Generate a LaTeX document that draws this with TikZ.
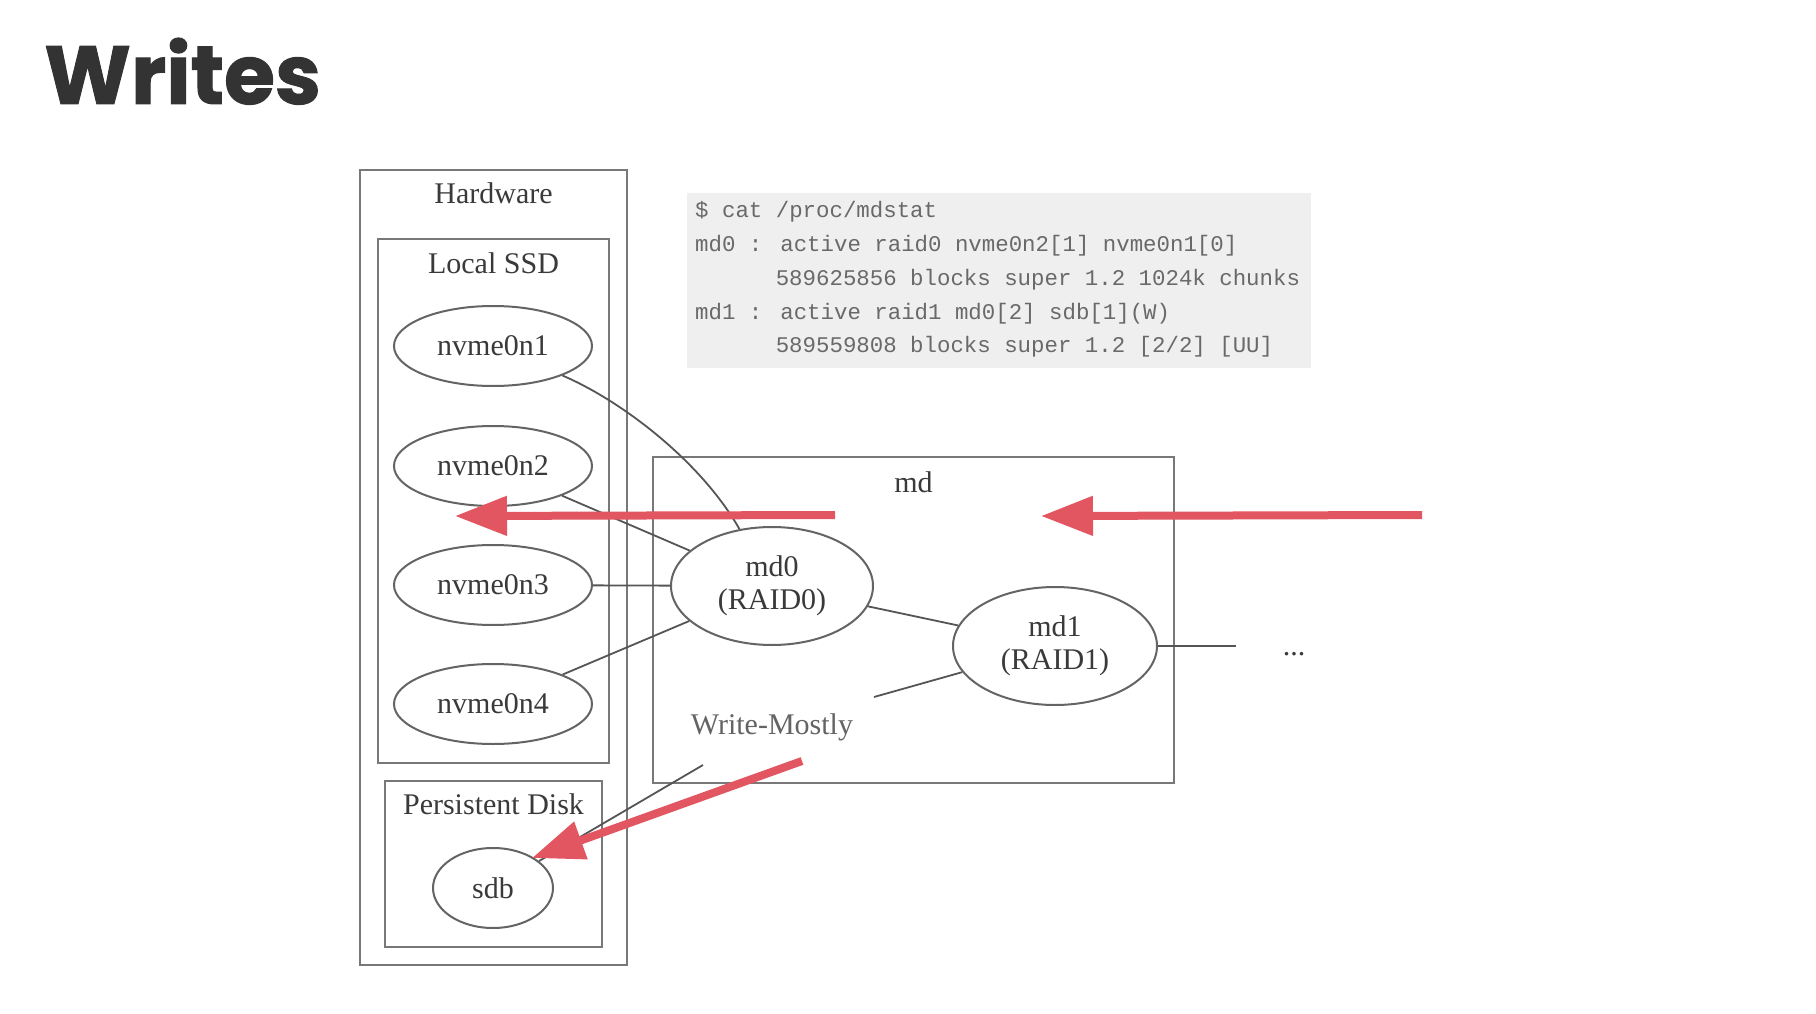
\documentclass[tikz,border=0pt]{standalone}
\usepackage{fontspec}
\setmainfont{Liberation Serif}
\newfontfamily\titlefont{Poppins}[BoldFeatures={FakeBold=1.2}]
\newfontfamily\codefont{Liberation Mono}
\usetikzlibrary{shapes.geometric,arrows.meta}
\definecolor{redarrow}{RGB}{226,86,97}
\definecolor{edgegray}{RGB}{85,85,85}
\definecolor{boxgray}{RGB}{120,120,120}
\definecolor{ellgray}{RGB}{100,100,100}
\definecolor{txtgray}{RGB}{58,58,58}
\definecolor{wmgray}{RGB}{100,100,100}
\definecolor{titlegray}{RGB}{51,51,51}
\definecolor{codegray}{RGB}{105,105,105}
\definecolor{codebg}{RGB}{239,239,239}
\begin{document}
\begin{tikzpicture}[x=1pt,y=-1pt,
  box/.style={draw=boxgray, line width=2.8pt, rectangle, inner sep=0pt},
  boxlabel/.style={inner sep=0pt, text=txtgray, font=\fontsize{30}{33}\selectfont},
  ell/.style={ellipse, draw=ellgray, line width=2pt, inner sep=0pt, align=center, text=txtgray, font=\fontsize{30}{33}\selectfont},
  edge/.style={draw=edgegray, line width=1.8pt},
  writearrow/.style={draw=redarrow, line width=8pt, -{Triangle[length=52pt,width=38pt]}},
  codeline/.style={anchor=base west, inner sep=0pt, text=codegray, font=\codefont\fontsize{22.4}{26}\selectfont}
]
\path[use as bounding box, fill=white] (0,0) rectangle (1816,1014);

% title
\node[anchor=base west, inner sep=0pt, text=titlegray, font=\titlefont\bfseries\fontsize{82.5}{82.5}\selectfont] (title) at (44,104) {Writes};

% code box
\node[fill=codebg, minimum width=624pt, minimum height=175pt, inner sep=0pt] (codebox) at (999,280.5) {};
\node[codeline] (c1) at (695,218) {\$ cat /proc/mdstat};
\node[codeline] (c2) at (695,251) {md0 : active raid0 nvme0n2[1] nvme0n1[0]};
\node[codeline] (c3) at (775.6,285) {589625856 blocks super 1.2 1024k chunks};
\node[codeline] (c4) at (695,319) {md1 : active raid1 md0[2] sdb[1](W)};
\node[codeline] (c5) at (775.6,352) {589559808 blocks super 1.2 [2/2] [UU]};

% clusters
\node[box, minimum width=267pt, minimum height=795pt] (hw) at (493.5,567.5) {};
\node[boxlabel] (hwl) at (493.5,193) {Hardware};
\node[box, minimum width=231pt, minimum height=524pt] (ssd) at (493.5,501) {};
\node[boxlabel] (ssdl) at (493.5,263) {Local SSD};
\node[box, minimum width=217pt, minimum height=166pt] (pd) at (493.5,864) {};
\node[boxlabel] (pdl) at (493.5,804) {Persistent Disk};
\node[box, minimum width=521pt, minimum height=326pt] (md) at (913.5,620) {};
\node[boxlabel] (mdl) at (913.5,482) {md};

% disks
\node[ell, minimum width=198pt, minimum height=80pt] (n1) at (493,346) {nvme0n1};
\node[ell, minimum width=198pt, minimum height=80pt] (n2) at (493,466) {nvme0n2};
\node[ell, minimum width=198pt, minimum height=80pt] (n3) at (493,585) {nvme0n3};
\node[ell, minimum width=198pt, minimum height=80pt] (n4) at (493,704) {nvme0n4};
\node[ell, minimum width=120pt, minimum height=80pt] (sdb) at (493,888) {sdb};
\node[ell, minimum width=202pt, minimum height=118pt] (md0) at (772,586) {md0\\(RAID0)};
\node[ell, minimum width=204pt, minimum height=118pt] (md1) at (1055,646) {md1\\(RAID1)};
\node[anchor=base, inner sep=0pt, minimum width=116pt, text=txtgray, font=\fontsize{30}{33}\selectfont] (dots) at (1294,655) {...};
\node[anchor=base, inner sep=0pt, text=wmgray, font=\fontsize{30}{33}\selectfont] (wm) at (772,734) {Write-Mostly};

% edges
\draw[edge] (n1) .. controls (620,400) and (700,460) .. (md0);
\draw[edge] (n2) -- (md0);
\draw[edge] (n3) -- (md0);
\draw[edge] (n4) -- (md0);
\draw[edge] (md0) -- (md1);
\draw[edge] (md1) -- (md1 -| dots.west);
\coordinate (wmA) at (874,697);
\coordinate (wmB) at (703,765);
\draw[edge] (wmA) -- (md1);
\draw[edge] (wmB) -- (sdb);

% red write arrows
\coordinate (a1s) at (835,515);
\coordinate (a1e) at (455,516);
\coordinate (a2s) at (1422,515);
\coordinate (a2e) at (1041,516);
\coordinate (a3s) at (802,761);
\coordinate (a3e) at (532,858);
\draw[writearrow] (a1s) -- (a1e);
\draw[writearrow] (a2s) -- (a2e);
\draw[writearrow] (a3s) -- (a3e);
\end{tikzpicture}
\end{document}
